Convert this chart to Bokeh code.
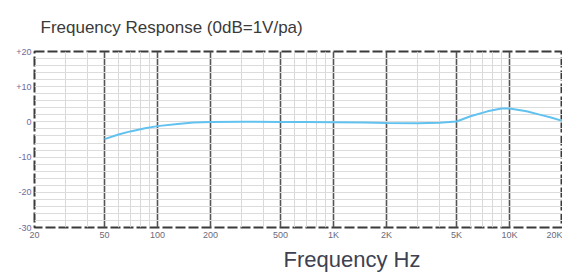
from bokeh.plotting import figure
from bokeh.models import FixedTicker, Title, ColumnDataSource
from bokeh.embed import file_html
from bokeh.resources import INLINE

# Data
freq_hz = [50, 60, 70, 85, 100, 130, 160, 200, 300, 500, 700, 1000, 1500, 2000, 3000,
           4000, 5000, 6000, 7500, 9000, 10000, 12500, 15000, 17000, 20000]
level_db = [-4.9, -3.6, -2.7, -1.8, -1.2, -0.6, -0.2, 0.0, 0.05, 0.0, -0.05, -0.1, -0.2, -0.3, -0.35,
            -0.25, 0.1, 1.6, 3.0, 3.8, 3.8, 3.0, 2.0, 1.3, 0.3]

x_major = [20, 50, 100, 200, 500, 1000, 2000, 5000, 10000, 20000]
x_major_labels = ["20", "50", "100", "200", "500", "1K", "2K", "5K", "10K", "20K"]
x_minor = [30, 40, 60, 70, 80, 90, 300, 400, 600, 700, 800, 900,
           3000, 4000, 6000, 7000, 8000, 9000]
y_major = [-30, -20, -10, 0, 10, 20]
y_major_labels = ["-30", "-20", "-10", "0", "+10", "+20"]
y_grid = list(range(-30, 21, 2))

p = figure(width=562, height=273, x_axis_type="log", x_range=(20, 20000), y_range=(-30, 20),
           output_backend="svg", toolbar_location=None,
           min_border_left=34, min_border_right=0, min_border_top=51, min_border_bottom=46)

p.title = Title(text="Frequency Response (0dB=1V/pa)", align="left", offset=6, standoff=30,
                text_font="Liberation Sans", text_font_size="17px", text_font_style="normal",
                text_line_height=1.0, text_color="#3a3a3a")
p.add_layout(Title(text="Frequency Hz", align="left", offset=249, standoff=4,
                   text_font="Liberation Sans", text_font_size="22px", text_font_style="normal",
                   text_color="#3d4150"), "below")

p.background_fill_color = "white"
p.border_fill_color = "white"
p.outline_line_color = "#3a3a3a"
p.outline_line_width = 2
p.outline_line_dash = "10 3"

# x axis
p.xaxis.ticker = FixedTicker(ticks=x_major, minor_ticks=x_minor)
p.xaxis.major_label_overrides = {v: l for v, l in zip(x_major, x_major_labels)}
p.xaxis.axis_line_color = None
p.xaxis.major_tick_line_color = None
p.xaxis.minor_tick_line_color = None
p.xaxis.major_tick_out = 0
p.xaxis.major_tick_in = 0
p.xaxis.minor_tick_out = 0
p.xaxis.minor_tick_in = 0
p.xaxis.major_label_standoff = 2
p.xaxis.major_label_text_font = "Liberation Sans"
p.xaxis.major_label_text_font_size = "9px"
p.xaxis.major_label_text_color = "#6a6a7a"

p.xgrid.ticker = FixedTicker(ticks=x_major, minor_ticks=x_minor)
p.xgrid.grid_line_color = "#555555"
p.xgrid.grid_line_width = 1.6
p.xgrid.minor_grid_line_color = "#d9d9d9"
p.xgrid.minor_grid_line_width = 1

# y axis
p.yaxis.ticker = FixedTicker(ticks=y_major)
p.yaxis.major_label_overrides = {v: l for v, l in zip(y_major, y_major_labels)}
p.yaxis.axis_line_color = None
p.yaxis.major_tick_line_color = None
p.yaxis.minor_tick_line_color = None
p.yaxis.major_tick_out = 0
p.yaxis.major_tick_in = 0
p.yaxis.minor_tick_out = 0
p.yaxis.minor_tick_in = 0
p.yaxis.major_label_standoff = 3
p.yaxis.major_label_text_font = "Liberation Sans"
p.yaxis.major_label_text_font_size = "9px"
p.yaxis.major_label_text_color = "#6a6e9e"

p.ygrid.ticker = FixedTicker(ticks=y_grid)
p.ygrid.grid_line_color = "#dcdcdc"
p.ygrid.grid_line_width = 1

src = ColumnDataSource(dict(f=freq_hz, db=level_db))
p.line("f", "db", source=src, line_color="#62c2ef", line_width=2)

open("out.html", "w").write(file_html(p, INLINE))
